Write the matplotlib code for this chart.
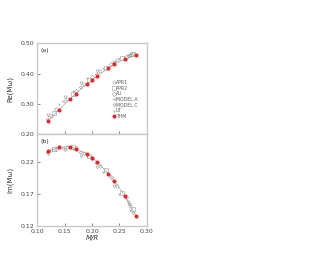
import matplotlib
matplotlib.use("Agg")
import matplotlib.pyplot as plt

# THM data (red)
thm_mr = [0.12, 0.14, 0.16, 0.17, 0.19, 0.20, 0.21, 0.23, 0.24, 0.26, 0.28]
thm_re = [0.245, 0.282, 0.317, 0.334, 0.366, 0.381, 0.393, 0.420, 0.433, 0.448, 0.461]
thm_im = [0.2365, 0.2431, 0.2438, 0.2411, 0.2329, 0.2267, 0.2194, 0.2018, 0.1910, 0.1667, 0.1361]

# other EOS (grey)
apr1_mr = [0.125, 0.155, 0.185, 0.215, 0.245, 0.27]
apr1_re = [0.262, 0.318, 0.365, 0.410, 0.445, 0.462]
apr1_im = [0.239, 0.2435, 0.2345, 0.213, 0.183, 0.152]

apr2_mr = [0.13, 0.165, 0.195, 0.225, 0.255, 0.275]
apr2_re = [0.270, 0.335, 0.380, 0.418, 0.452, 0.465]
apr2_im = [0.241, 0.243, 0.229, 0.207, 0.172, 0.146]

au_mr = [0.135, 0.17, 0.20, 0.235, 0.262]
au_re = [0.285, 0.345, 0.390, 0.432, 0.457]
au_im = [0.241, 0.2415, 0.227, 0.196, 0.165]

ma_mr = [0.118, 0.148, 0.178, 0.208, 0.238, 0.268]
ma_re = [0.252, 0.310, 0.358, 0.400, 0.435, 0.462]
ma_im = [0.236, 0.242, 0.236, 0.218, 0.190, 0.155]

mc_mr = [0.12, 0.15, 0.18, 0.21, 0.24, 0.265, 0.275]
mc_re = [0.265, 0.325, 0.370, 0.410, 0.440, 0.458, 0.466]
mc_im = [0.233, 0.238, 0.230, 0.212, 0.183, 0.158, 0.140]

ut_mr = [0.14, 0.165, 0.19, 0.22, 0.25, 0.27]
ut_re = [0.300, 0.345, 0.385, 0.420, 0.452, 0.470]
ut_im = [0.245, 0.241, 0.230, 0.205, 0.170, 0.145]

series = [
    ("APR1", apr1_mr, apr1_re, apr1_im, "o"),
    ("APR2", apr2_mr, apr2_re, apr2_im, "s"),
    ("AU", au_mr, au_re, au_im, "D"),
    ("MODEL A", ma_mr, ma_re, ma_im, "<"),
    ("MODEL C", mc_mr, mc_re, mc_im, "v"),
    ("UT", ut_mr, ut_re, ut_im, "1"),
]

fig = plt.figure(figsize=(3.34, 2.58), dpi=100)
ax1 = fig.add_axes([0.1108, 0.4787, 0.3293, 0.3527])
ax2 = fig.add_axes([0.1108, 0.124, 0.3293, 0.3547])

grey = "#9a9a9a"
red = "#e8262a"
spine_c = "#c8c8c8"

for ax, idx in ((ax1, 2), (ax2, 3)):
    ax.plot(thm_mr, thm_re if idx == 2 else thm_im, color="#aaaaaa", lw=0.5, zorder=1)
    for name, mr, re, im, mk in series:
        vals = re if idx == 2 else im
        ax.plot(mr, vals, linestyle="none", marker=mk, ms=2.2, mfc="none",
                mec=grey, mew=0.4, label=name, zorder=2)
    ax.plot(thm_mr, thm_re if idx == 2 else thm_im, linestyle="none", marker="o",
            ms=1.9, color=red, mec=red, label="THM", zorder=3)
    ax.set_xlim(0.10, 0.30)
    ax.tick_params(direction="in", length=2, width=0.5, colors="#555555",
                   labelsize=4.5, labelcolor="#444444", pad=2)
    for s in ax.spines.values():
        s.set_color(spine_c)
        s.set_linewidth(1.0)

ax1.set_ylim(0.20, 0.50)
ax1.set_yticks([0.20, 0.30, 0.40, 0.50])
ax1.set_yticklabels(["0.20", "0.30", "0.40", "0.50"])
ax1.set_xticks([0.10, 0.15, 0.20, 0.25, 0.30])
ax1.tick_params(labelbottom=False)

ax2.set_ylim(0.12, 0.263)
ax2.set_yticks([0.12, 0.17, 0.22])
ax2.set_yticklabels(["0.12", "0.17", "0.22"])
ax2.set_xticks([0.10, 0.15, 0.20, 0.25, 0.30])
ax2.set_xticklabels(["0.10", "0.15", "0.20", "0.25", "0.30"])

ax1.set_ylabel("Re(Mω)", fontsize=5, color="#333333", labelpad=5)
ax2.set_ylabel("Im(Mω)", fontsize=5, color="#333333", labelpad=5)
ax2.set_xlabel("M/R", fontsize=5, style="italic", color="#333333", labelpad=1)

ax1.text(0.03, 0.95, "(a)", transform=ax1.transAxes, fontsize=4.5, va="top", color="#333333")
ax2.text(0.03, 0.95, "(b)", transform=ax2.transAxes, fontsize=4.5, va="top", color="#333333")

leg = ax1.legend(loc="upper left", bbox_to_anchor=(0.66, 0.63), frameon=False,
                 fontsize=3.3, handlelength=0.6, handletextpad=0.2, labelspacing=0.15,
                 borderpad=0.1, labelcolor="#555555")

fig.savefig("out.png", dpi=100)
